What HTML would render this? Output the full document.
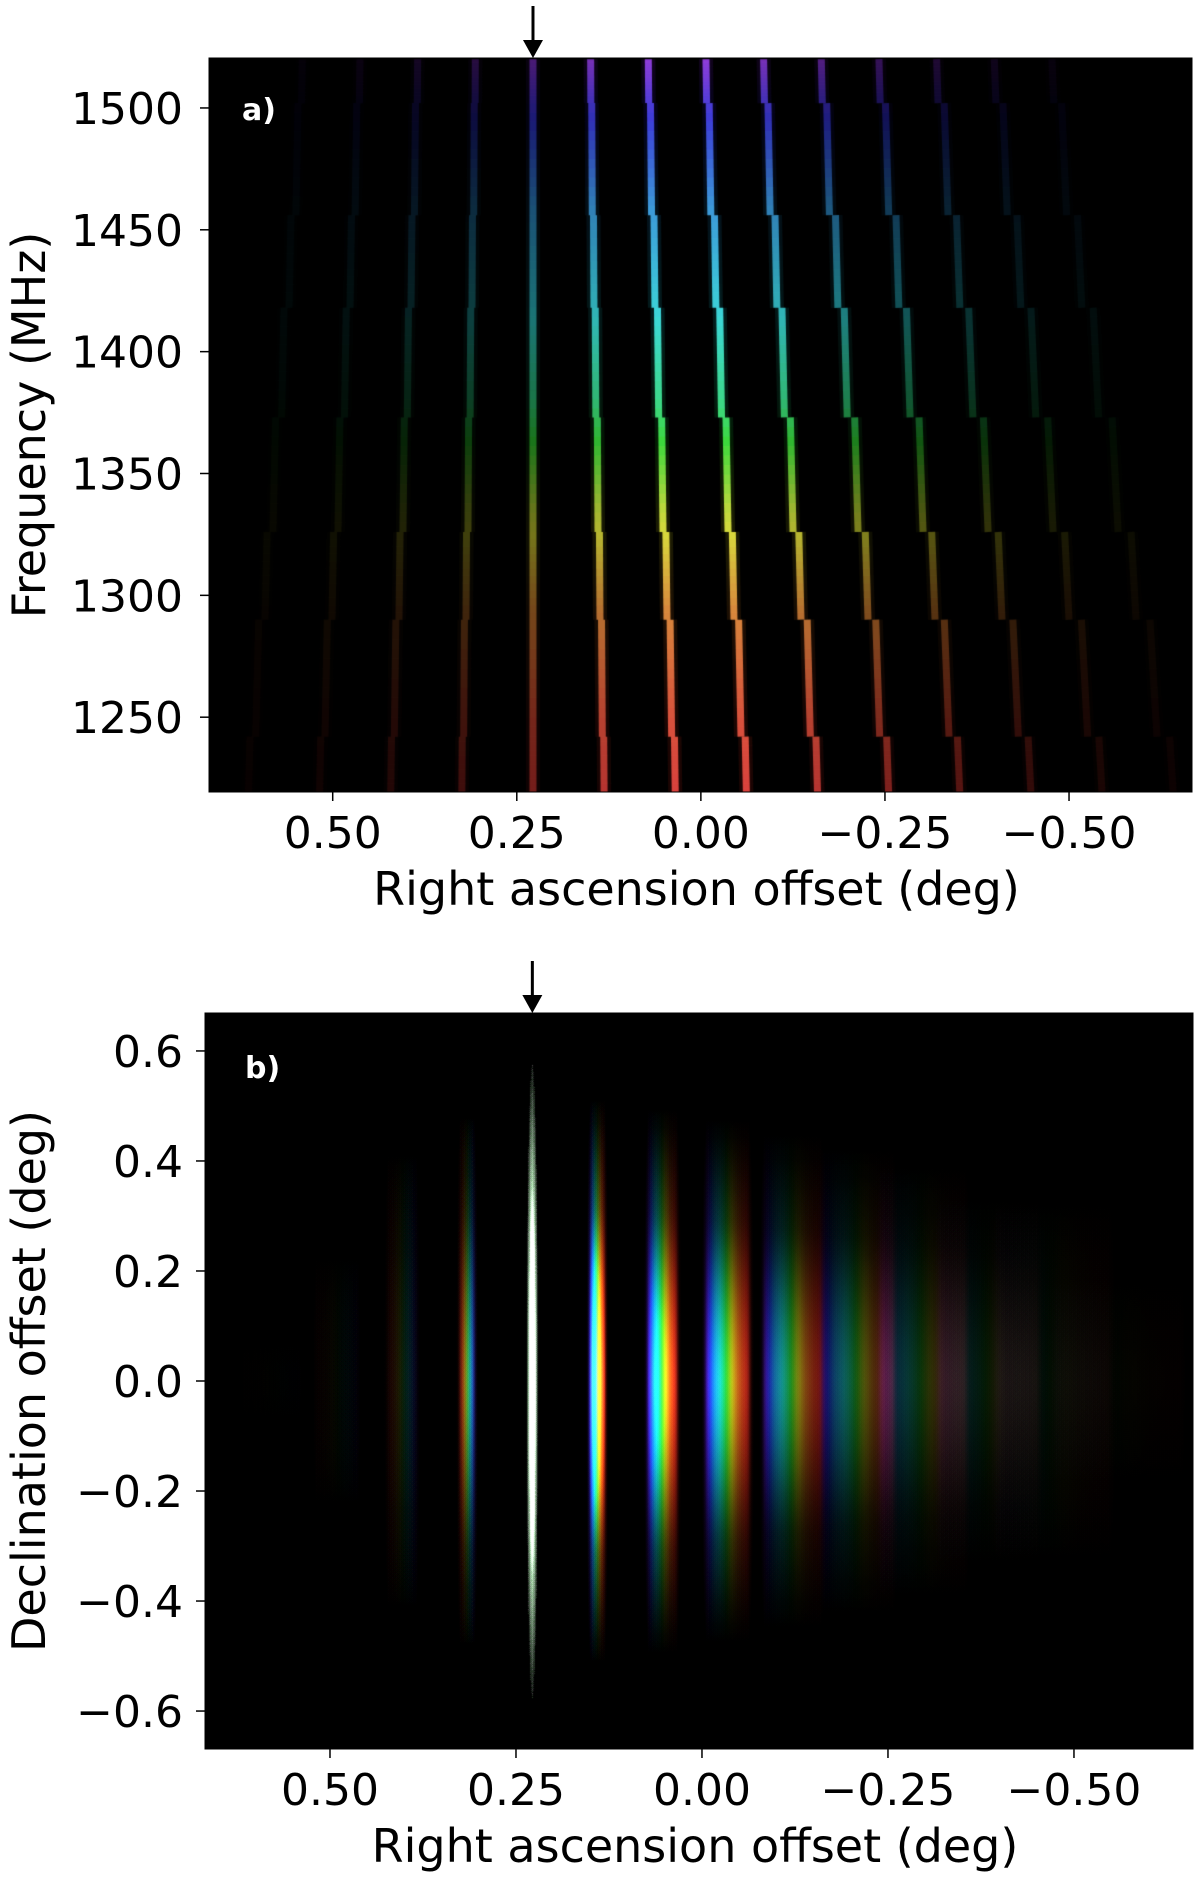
<!DOCTYPE html>
<html><head><meta charset="utf-8">
<style>
html,body{margin:0;padding:0;background:#fff;}
#wrap{position:relative;width:1200px;height:1882px;overflow:hidden;background:#fff;font-family:"DejaVu Sans","Liberation Sans",sans-serif;}
canvas{position:absolute;}
svg{position:absolute;left:0;top:0;}
</style></head>
<body>
<div id="wrap">
<canvas id="ca" width="983" height="734" style="left:209px;top:58px;"></canvas>
<canvas id="cb" width="988" height="736" style="left:205px;top:1013px;"></canvas>
<svg id="ax" width="1200" height="1882"></svg>
</div>
<script>
// ---- data ----
const segmentEdges = [1520, 1502, 1456, 1418, 1373, 1326, 1290, 1242, 1219]; // MHz channel block edges
const fringeOrders = [-4, -3, -2, -1, 0, 1, 2, 3, 4, 5, 6, 7, 8, 9];
const fringeGain   = [0.04, 0.08, 0.16, 0.3, 0.55, 0.85, 1.0, 1.0, 0.85, 0.6, 0.4, 0.24, 0.12, 0.06];
const fringeGainB  = [0.02, 0.04, 0.1, 0.3, 0.85, 0.85, 0.95, 0.95, 0.75, 0.55, 0.36, 0.22, 0.12, 0.06];
const fringeCenterRA = 0.228;   // deg, stationary fringe (arrow)
const fringeSpacing = 0.0785;   // deg at reference freq
const refFreq = 1510;
const colorFreqs = [1220, 1250, 1295, 1335, 1380, 1420, 1460, 1500, 1520];
const colorHues  = [2,    8,    30,   70,   150,  185,  205,  245,  272];
const yTicksA = [1250, 1300, 1350, 1400, 1450, 1500];
const yTicksB = [-0.6, -0.4, -0.2, 0.0, 0.2, 0.4, 0.6];
const xTicks = [0.50, 0.25, 0.00, -0.25, -0.50];
const xTickLabels = ["0.50", "0.25", "0.00", "\u22120.25", "\u22120.50"];
const yTickLabelsB = ["\u22120.6", "\u22120.4", "\u22120.2", "0.0", "0.2", "0.4", "0.6"];

// ---- axes ----
const A = {l:209, r:1192, t:58, b:792, x0:0.668, x1:-0.667, y0:1520.5, y1:1219.3};
const B = {l:205, r:1193, t:1013, b:1749, x0:0.668, x1:-0.66, y0:0.669, y1:-0.669};
function sx(P, v){ return P.l + (v - P.x0) / (P.x1 - P.x0) * (P.r - P.l); }
function sy(P, v){ return P.t + (v - P.y0) / (P.y1 - P.y0) * (P.b - P.t); }
function hue(f){
  if (f <= colorFreqs[0]) return colorHues[0];
  for (let i = 1; i < colorFreqs.length; i++) {
    if (f <= colorFreqs[i]) {
      const t = (f - colorFreqs[i-1]) / (colorFreqs[i] - colorFreqs[i-1]);
      return colorHues[i-1] + t * (colorHues[i] - colorHues[i-1]);
    }
  }
  return colorHues[colorHues.length-1];
}
function fringeRA(k, f){ return fringeCenterRA - k * fringeSpacing * (refFreq / f); }

// ---- panel a ----
const ca = document.getElementById('ca').getContext('2d');
ca.fillStyle = '#000'; ca.fillRect(0,0,983,734);
ca.globalCompositeOperation = 'lighter';
for (let s = 0; s < segmentEdges.length - 1; s++) {
  const fhi = segmentEdges[s], flo = segmentEdges[s+1], fmid = (fhi + flo) / 2;
  for (let i = 0; i < fringeOrders.length; i++) {
    const k = fringeOrders[i], g = fringeGain[i];
    const n = 12;
    for (let j = 0; j < n; j++) {
      const fa = fhi - (fhi - flo) * j / n, fb = fhi - (fhi - flo) * (j + 1) / n;
      const ea = fmid + 0.3 * (fa - fmid), eb = fmid + 0.3 * (fb - fmid);
      const xa = sx(A, fringeRA(k, ea)) - A.l, xb = sx(A, fringeRA(k, eb)) - A.l;
      const ya = sy(A, fa) - A.t, yb = sy(A, fb) - A.t;
      const h = hue((fa+fb)/2);
      ca.strokeStyle = 'hsla(' + h + ',80%,' + (52 + 8*g) + '%,' + (0.8*g) + ')';
      ca.lineWidth = 7;
      ca.beginPath(); ca.moveTo(xa, ya); ca.lineTo(xb, yb); ca.stroke();
      ca.strokeStyle = 'hsla(' + h + ',80%,50%,' + (0.12*g) + ')';
      ca.lineWidth = 14;
      ca.beginPath(); ca.moveTo(xa, ya); ca.lineTo(xb, yb); ca.stroke();
    }
  }
}

// ---- panel b ----
const cb = document.getElementById('cb').getContext('2d');
cb.fillStyle = '#000'; cb.fillRect(0,0,988,736);
cb.globalCompositeOperation = 'lighter';
const yc = sy(B, 0) - B.t;
const pxPerDeg = (B.b - B.t) / (B.y0 - B.y1);
for (let i = 0; i < fringeOrders.length; i++) {
  const k = fringeOrders[i], g = fringeGainB[i];
  for (let f = 1220; f <= 1520; f += 4) {
    const x = sx(B, fringeRA(k, f)) - B.l;
    const w = k === 0 ? 6 : 4 + Math.abs(k) * 0.5;
    const h = pxPerDeg * (k === 0 ? 0.6 : 0.55 - Math.min(0.15, Math.abs(k) * 0.02));
    cb.save();
    cb.translate(x, yc);
    cb.scale(1, h / w);
    const gr = cb.createRadialGradient(0, 0, 0, 0, 0, w);
    const a = 0.13 * g;
    gr.addColorStop(0, 'hsla(' + hue(f) + ',85%,55%,' + a + ')');
    gr.addColorStop(0.3, 'hsla(' + hue(f) + ',85%,52%,' + (a*0.6) + ')');
    gr.addColorStop(0.6, 'hsla(' + hue(f) + ',85%,50%,' + (a*0.18) + ')');
    gr.addColorStop(1, 'hsla(' + hue(f) + ',85%,50%,0)');
    cb.fillStyle = gr;
    cb.beginPath(); cb.arc(0, 0, w, 0, Math.PI*2); cb.fill();
    cb.restore();
  }
}

// ---- SVG axes ----
const svg = document.getElementById('ax');
const NS = 'http://www.w3.org/2000/svg';
function mk(tag, attrs, txt){
  const e = document.createElementNS(NS, tag);
  for (const k in attrs) e.setAttribute(k, attrs[k]);
  if (txt !== undefined) e.textContent = txt;
  svg.appendChild(e); return e;
}
function frame(P, nm){
  const r = mk('rect', {x:P.l, y:P.t, width:P.r-P.l, height:P.b-P.t, fill:'none', stroke:'#000', 'stroke-width':1});
  
  
}
frame(A, 'panel-a-frame'); frame(B, 'panel-b-frame');
function xAxis(P, base, lbl, nm){
  xTicks.forEach((v, i) => {
    const x = sx(P, v);
    const t = mk('line', {x1:x, x2:x, y1:P.b, y2:P.b+9, stroke:'#000', 'stroke-width':1.5});
    
    
    const tx = mk('text', {x:x, y:P.b+56, 'font-size':44, 'text-anchor':'middle', fill:'#000'}, xTickLabels[i]);
    
    
  });
  const t = mk('text', {x:(P.l+P.r)/2 - 4, y:base, 'font-size':46, 'text-anchor':'middle', fill:'#000'}, lbl);
  
  
}
xAxis(A, 905, 'Right ascension offset (deg)', 'x-axis-a');
xAxis(B, 1862, 'Right ascension offset (deg)', 'x-axis-b');
function yAxis(P, ticks, labels, title, nm){
  ticks.forEach((v, i) => {
    const y = sy(P, v);
    const t = mk('line', {x1:P.l-9, x2:P.l, y1:y, y2:y, stroke:'#000', 'stroke-width':1.5});
    
    
    const tx = mk('text', {x:183, y:y+16, 'font-size':44, 'text-anchor':'end', fill:'#000'}, labels[i]);
    
    
  });
  const cy = (P.t + P.b) / 2;
  const t = mk('text', {x:0, y:0, 'font-size':46, 'text-anchor':'middle', fill:'#000', transform:'translate(45,' + cy + ') rotate(-90)'}, title);
  
  
}
yAxis(A, yTicksA, yTicksA.map(String), 'Frequency (MHz)', 'y-axis-a');
yAxis(B, yTicksB, yTickLabelsB, 'Declination offset (deg)', 'y-axis-b');
function panelLabel(x, y, s, nm){
  const t = mk('text', {x:x, y:y, 'font-size':30, 'font-weight':'bold', fill:'#fff'}, s);
  
  
}
panelLabel(242, 120, 'a)', 'panel-a-label');
panelLabel(245, 1078, 'b)', 'panel-b-label');
function arrow(P, nm){
  const x = sx(P, fringeCenterRA);
  const g = mk('g', {});
  
  
  const l = document.createElementNS(NS, 'line');
  l.setAttribute('x1', x); l.setAttribute('x2', x); l.setAttribute('y1', P.t-52); l.setAttribute('y2', P.t-12);
  l.setAttribute('stroke', '#000'); l.setAttribute('stroke-width', 3);
  g.appendChild(l);
  const p = document.createElementNS(NS, 'polygon');
  p.setAttribute('points', (x-10) + ',' + (P.t-18) + ' ' + (x+10) + ',' + (P.t-18) + ' ' + x + ',' + P.t);
  p.setAttribute('fill', '#000');
  g.appendChild(p);
}
arrow(A, 'arrow-marker-a');
arrow(B, 'arrow-marker-b');
</script>
</body></html>
